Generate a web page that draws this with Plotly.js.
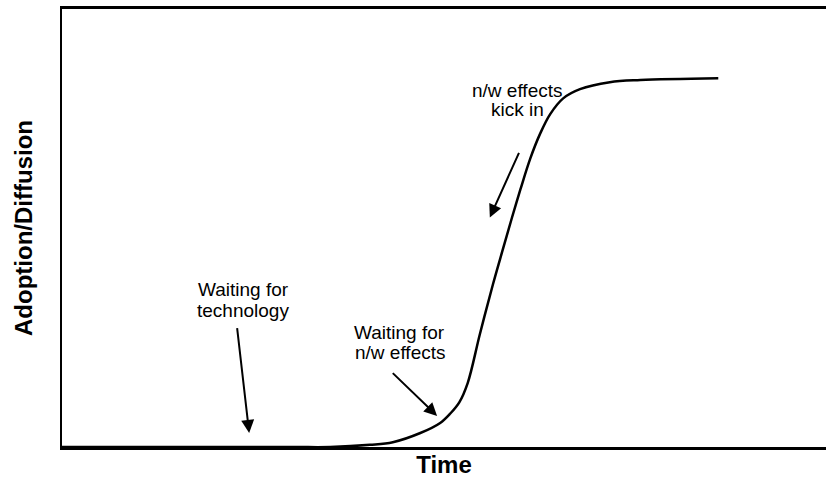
<!DOCTYPE html>
<html>
<head>
<meta charset="utf-8">
<script src="https://cdn.plot.ly/plotly-3.0.1.min.js"></script>
<style>html,body{margin:0;padding:0;background:#fff;}#chart{width:826px;height:482px;}</style>
</head>
<body>
<div id="chart"></div>
<script>
// S-curve of adoption over time (arbitrary units, 0-100 scales)
const timeVals = [0, 30, 35.1, 40.3, 43.3, 46.9, 49.5, 50.8, 52.0, 53.1, 54.7, 56.4, 57.7, 58.9, 60.0, 61.3, 62.6, 63.9, 65.6, 67.8, 71.7, 75.7, 85.9];
const adoptionVals = [0, 0, 0, 0.5, 1.1, 3.2, 5.5, 7.6, 10.2, 14.6, 25.8, 37.1, 45.1, 52.4, 58.8, 65.9, 71.6, 76.0, 79.6, 81.7, 83.3, 83.8, 84.2];

// annotation labels, one entry per text line
const labelLines = ["n/w effects", "kick in", "Waiting for", "technology", "Waiting for", "n/w effects"];
const labelX = [59.6, 59.6, 23.7, 23.7, 44.2, 44.2];
const labelY = [81.4, 77.0, 35.9, 31.1, 26.1, 21.5];
const arrowHeadX = [56.0, 24.5, 49.1];
const arrowHeadY = [52.4, 3.2, 7.1];
const arrowTailX = [59.9, 22.9, 43.1];
const arrowTailY = [67.5, 27.5, 17.2];

const xTitle = "Time";
const yTitle = "Adoption/Diffusion";

const font = "Liberation Sans, Arial, Helvetica, sans-serif";

const annotations = [];
for (let i = 0; i < labelLines.length; i++) {
  annotations.push({
    x: labelX[i], y: labelY[i], xref: 'x', yref: 'y',
    text: labelLines[i], showarrow: false,
    font: {family: font, size: 19, color: '#000'},
    align: 'center', xanchor: 'center', yanchor: 'middle'
  });
}
for (let i = 0; i < arrowHeadX.length; i++) {
  annotations.push({
    x: arrowHeadX[i], y: arrowHeadY[i], xref: 'x', yref: 'y',
    ax: arrowTailX[i], ay: arrowTailY[i], axref: 'x', ayref: 'y',
    text: '', showarrow: true, arrowhead: 2, arrowsize: 1.3, arrowwidth: 2, arrowcolor: '#000'
  });
}

const trace = {
  x: timeVals, y: adoptionVals, type: 'scatter', mode: 'lines',
  line: {color: '#000', width: 2.5, shape: 'spline', smoothing: 1},
  hoverinfo: 'skip'
};

const layout = {
  width: 826, height: 482,
  margin: {l: 62, r: 0, t: 9, b: 35},
  paper_bgcolor: '#fff', plot_bgcolor: '#fff',
  showlegend: false,
  xaxis: {
    range: [0, 100], showgrid: false, zeroline: false, showticklabels: false, ticks: '',
    showline: true, linecolor: '#000', linewidth: 3, mirror: true,
    title: {text: '<b>' + xTitle + '</b>', font: {family: font, size: 24, color: '#000'}, standoff: 8}
  },
  yaxis: {
    range: [0, 100], showgrid: false, zeroline: false, showticklabels: false, ticks: '',
    showline: true, linecolor: '#000', linewidth: 2.5, mirror: false,
    title: {text: '<b>' + yTitle + '</b>', font: {family: font, size: 24, color: '#000'}, standoff: 20}
  },
  annotations: annotations
};

Plotly.newPlot('chart', [trace], layout, {displayModeBar: false, staticPlot: true});
</script>
</body>
</html>
